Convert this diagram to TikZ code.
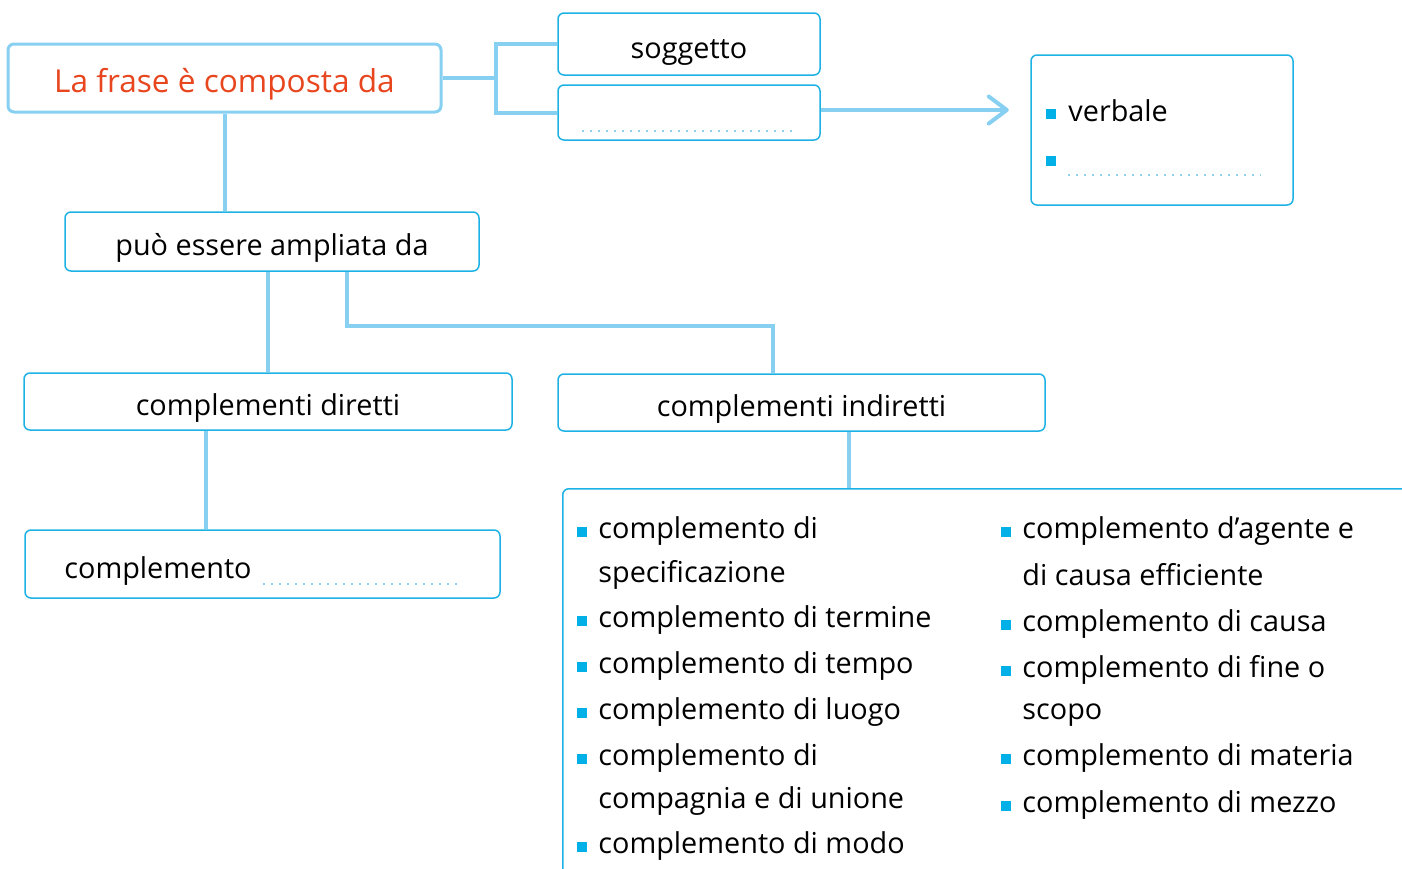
\documentclass[tikz,border=0pt]{standalone}
\usepackage{fontspec}
\setmainfont{Open Sans}
\usetikzlibrary{arrows.meta,calc,backgrounds}
\definecolor{conc}{RGB}{135,208,242}
\definecolor{edgec}{RGB}{30,178,228}
\definecolor{bulc}{RGB}{0,176,230}
\definecolor{titlec}{RGB}{232,70,30}
\definecolor{dotc}{RGB}{140,210,240}
\begin{document}
\begin{tikzpicture}[x=0.5pt,y=-0.5pt,
  every node/.style={font=\fontsize{14.4pt}{17pt}\selectfont},
  box/.style={draw=edgec, line width=0.75pt, rounded corners=3pt, fill=white, inner sep=0pt, text height=14pt, text depth=0pt},
  titlebox/.style={draw=conc, line width=1.5pt, rounded corners=3pt, fill=white, inner sep=0pt, text height=14pt, text depth=0pt, text=titlec, font=\fontsize{15.8pt}{19pt}\selectfont},
  conline/.style={draw=conc, line width=2pt},
  dotline/.style={draw=dotc, line width=1pt, dash pattern=on 1pt off 3pt},
  txt/.style={inner sep=0pt, anchor=base west},
  bulsq/.style={fill=bulc},
]
\useasboundingbox (0,0) rectangle (1402,868);
\clip (0,0) rectangle (1402,868);

% boxes
\node[titlebox, minimum width=216.5pt, minimum height=34pt] (title) at (224.5,78) {La frase è composta da};
\node[box, minimum width=131pt, minimum height=31pt] (sogg) at (689,44) {soggetto};
\node[box, minimum width=131pt, minimum height=27.5pt] (blank) at (689,112.5) {};
\node[box, minimum width=131pt, minimum height=75pt] (verb) at (1162,130) {};
\node[box, minimum width=207pt, minimum height=29.5pt] (puo) at (272,241.5) {può essere ampliata da};
\node[box, minimum width=244pt, minimum height=28.5pt] (dir) at (268,401.5) {complementi diretti};
\node[box, minimum width=237.5pt, minimum height=34pt] (compl) at (262.5,564) {};
\node[box, minimum width=243.5pt, minimum height=28.5pt] (ind) at (801.5,402.5) {complementi indiretti};
\node[box, anchor=north west, minimum width=440pt, minimum height=220pt] (list) at (562,488) {};

% connectors
\begin{scope}[on background layer]
\coordinate (br) at (496,78);
\draw[conline] (title.east) -- (br);
\draw[conline] (sogg.west) -| (br) |- (blank.west);
\draw[conline] (title.south) -- (title.south |- puo.north);
\draw[conline] (dir.north) -- (dir.north |- puo.south);
\coordinate (jn) at (773,326);
\draw[conline] ([xshift=37.5pt]puo.south) |- (jn) -- (jn |- ind.north);
\draw[conline] ([xshift=-31pt]dir.south) -- ([xshift=-31pt]dir.south |- compl.north);
\draw[conline] ([xshift=23.75pt]ind.south) -- ([xshift=23.75pt]ind.south |- list.north);
\end{scope}
\draw[conline, -{Straight Barb[length=9pt,width=13.5pt,round]}] ([yshift=1.25pt]blank.east) -- ++(188,0);

% blanks
\draw[dotline] (582,131) -- (797,131);

% verbale box
\node[txt] (verbale) at (1068,121) {verbale};
\fill[bulsq] ($(verbale.base west)+(-22,-2)$) rectangle ++(10,-10);
\fill[bulsq] (1046,166) rectangle (1056,156);
\draw[dotline] (1068,175) -- (1261,175);

% complemento box
\node[txt] (complt) at (64,578) {complemento};
\draw[dotline] (263,584) -- (457,584);

% left list
\node[txt] (l1) at (598,538) {complemento di};
\node[txt] (l1b) at (598,582) {specificazione};
\node[txt] (l2) at (598,627) {complemento di termine};
\node[txt] (l3) at (598,673) {complemento di tempo};
\node[txt] (l4) at (598,719) {complemento di luogo};
\node[txt] (l5) at (598,765) {complemento di};
\node[txt] (l5b) at (598,808) {compagnia e di unione};
\node[txt] (l6) at (598,853) {complemento di modo};
\foreach \n in {l1,l2,l3,l4,l5,l6}
  \fill[bulsq] ($(\n.base west)+(-21,-1)$) rectangle ++(10,-10);

% right list
\node[txt] (r1) at (1022,538) {complemento d’agente e};
\node[txt] (r1b) at (1022,585) {di causa efficiente};
\node[txt] (r2) at (1022,631) {complemento di causa};
\node[txt] (r3) at (1022,677) {complemento di fine o};
\node[txt] (r3b) at (1022,719) {scopo};
\node[txt] (r4) at (1022,765) {complemento di materia};
\node[txt] (r5) at (1022,812) {complemento di mezzo};
\foreach \n in {r1,r2,r3,r4,r5}
  \fill[bulsq] ($(\n.base west)+(-21,-1)$) rectangle ++(10,-10);
\end{tikzpicture}
\end{document}
